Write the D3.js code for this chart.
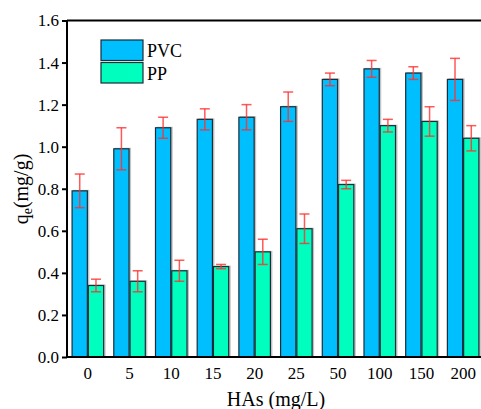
<!DOCTYPE html>
<html>
<head>
<meta charset="utf-8">
<script src="https://cdn.jsdelivr.net/npm/d3@7"></script>
<style>
  html, body { margin: 0; padding: 0; background: #fff; }
  svg { display: block; }
  svg text { font-family: "Liberation Serif", "Times New Roman", Times, serif; fill: #000; }
</style>
</head>
<body>
<svg id="chart" width="481" height="409"></svg>
<script>
const categories = ["0", "5", "10", "15", "20", "25", "50", "100", "150", "200"];
const seriesNames = ["PVC", "PP"];
const pvcValues = [0.79, 0.99, 1.09, 1.13, 1.14, 1.19, 1.32, 1.37, 1.35, 1.32];
const pvcErrors = [0.08, 0.10, 0.05, 0.05, 0.06, 0.07, 0.03, 0.04, 0.03, 0.10];
const ppValues  = [0.34, 0.36, 0.41, 0.43, 0.50, 0.61, 0.82, 1.10, 1.12, 1.04];
const ppErrors  = [0.03, 0.05, 0.05, 0.01, 0.06, 0.07, 0.02, 0.03, 0.07, 0.06];
const yTicks = [0.0, 0.2, 0.4, 0.6, 0.8, 1.0, 1.2, 1.4, 1.6];
const colors = ["#00BFFF", "#00FFBF"];

const FONT = '"Liberation Serif", "Times New Roman", Times, serif';
const svg = d3.select("#chart");
const mLeft = 67, mRight = 484, mTop = 20.5, mBottom = 357;

const x = d3.scaleBand().domain(categories).range([mLeft, mRight]).paddingInner(0.22).paddingOuter(0.11);
const xs = d3.scaleBand().domain(seriesNames).range([0, x.bandwidth()]);
const y = d3.scaleLinear().domain([0, 1.6]).range([mBottom, mTop]);

const rows = categories.map((c, i) => ({
  cat: c,
  vals: [
    { s: "PVC", v: pvcValues[i], e: pvcErrors[i], color: colors[0] },
    { s: "PP", v: ppValues[i], e: ppErrors[i], color: colors[1] }
  ]
}));

const g = svg.append("g");
const groups = g.selectAll("g.grp").data(rows).join("g")
  .attr("class", "grp")
  .attr("transform", d => `translate(${x(d.cat)},0)`);

// shadows
groups.selectAll("rect.shadow").data(d => d.vals).join("rect")
  .attr("class", "shadow")
  .attr("x", d => xs(d.s) + 1.5)
  .attr("y", d => y(d.v) - 1)
  .attr("width", xs.bandwidth())
  .attr("height", d => mBottom - y(d.v) + 1)
  .attr("fill", "#888")
  .attr("opacity", 0.5);

// bars
groups.selectAll("rect.bar").data(d => d.vals).join("rect")
  .attr("class", "bar")
  .attr("x", d => xs(d.s) + 0.5)
  .attr("y", d => y(d.v))
  .attr("width", xs.bandwidth() - 1)
  .attr("height", d => mBottom - y(d.v))
  .attr("fill", d => d.color)
  .attr("stroke", "#1c2c38")
  .attr("stroke-width", 1.2);

// error bars
const eb = groups.selectAll("g.err").data(d => d.vals).join("g")
  .attr("class", "err")
  .attr("stroke", "#ff3030")
  .attr("stroke-opacity", 0.8)
  .attr("stroke-width", 1.5);
eb.append("line")
  .attr("x1", d => xs(d.s) + xs.bandwidth() / 2)
  .attr("x2", d => xs(d.s) + xs.bandwidth() / 2)
  .attr("y1", d => y(d.v + d.e))
  .attr("y2", d => y(d.v - d.e));
eb.append("line")
  .attr("x1", d => xs(d.s) + xs.bandwidth() / 2 - 5)
  .attr("x2", d => xs(d.s) + xs.bandwidth() / 2 + 5)
  .attr("y1", d => y(d.v + d.e))
  .attr("y2", d => y(d.v + d.e));
eb.append("line")
  .attr("x1", d => xs(d.s) + xs.bandwidth() / 2 - 5)
  .attr("x2", d => xs(d.s) + xs.bandwidth() / 2 + 5)
  .attr("y1", d => y(d.v - d.e))
  .attr("y2", d => y(d.v - d.e));

// frame
svg.append("line").attr("x1", mLeft).attr("x2", mRight).attr("y1", mTop).attr("y2", mTop)
  .attr("stroke", "#000").attr("stroke-width", 2);
svg.append("line").attr("x1", mLeft).attr("x2", mRight).attr("y1", mBottom).attr("y2", mBottom)
  .attr("stroke", "#000").attr("stroke-width", 2);

// y axis
const yAxis = svg.append("g").attr("transform", `translate(${mLeft},0)`)
  .call(d3.axisLeft(y).tickValues(yTicks).tickFormat(d3.format(".1f")).tickSize(5).tickPadding(3));
yAxis.attr("font-family", FONT).attr("font-size", 17);
yAxis.select(".domain").attr("stroke-width", 2).attr("d", `M0,${mTop}V${mBottom}`);
yAxis.selectAll(".tick line").attr("stroke-width", 2);

// x axis
const xAxis = svg.append("g").attr("transform", `translate(0,${mBottom})`)
  .call(d3.axisBottom(x).tickSize(0).tickPadding(10));
xAxis.attr("font-family", FONT).attr("font-size", 17);
xAxis.select(".domain").remove();

// axis titles
svg.append("text").attr("x", 276).attr("y", 406).attr("text-anchor", "middle")
  .attr("font-family", FONT).attr("font-size", 20).text("HAs (mg/L)");

const yl = svg.append("text").attr("transform", "translate(28,189) rotate(-90)")
  .attr("text-anchor", "middle").attr("font-family", FONT).attr("font-size", 20);
yl.append("tspan").text("q");
yl.append("tspan").attr("dy", 4).attr("font-size", 14).text("e");
yl.append("tspan").attr("dy", -4).text("(mg/g)");

// legend
const leg = svg.append("g").attr("font-family", FONT).attr("font-size", 18);
seriesNames.forEach((s, i) => {
  const yy = 40 + i * 22.5;
  leg.append("rect").attr("x", 101).attr("y", yy).attr("width", 42).attr("height", 20.5)
    .attr("fill", colors[i]).attr("stroke", "#1c2c38").attr("stroke-width", 1.2);
  leg.append("text").attr("x", 147).attr("y", yy + 17).text(s);
});
</script>
</body>
</html>
